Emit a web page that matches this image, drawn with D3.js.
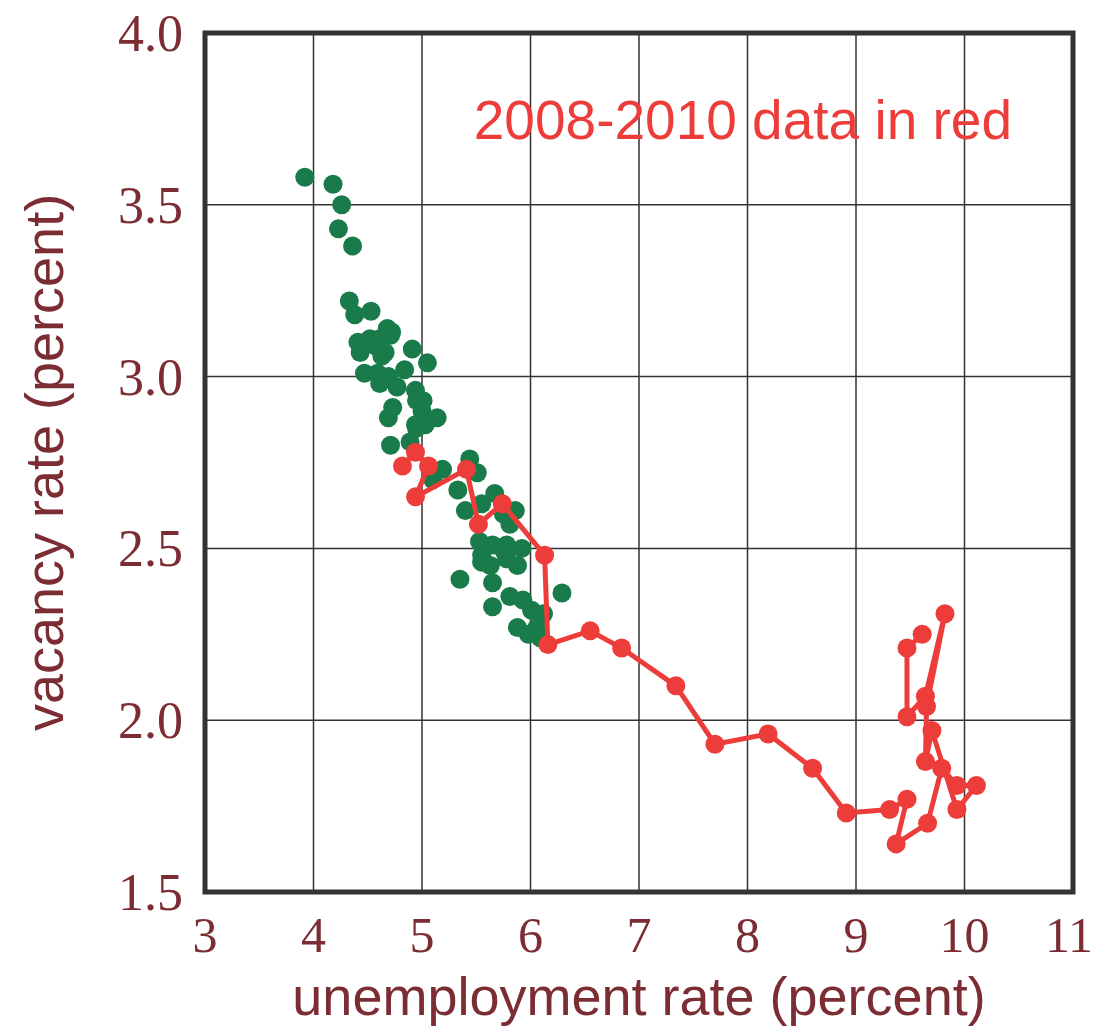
<!DOCTYPE html>
<html>
<head>
<meta charset="utf-8">
<script src="https://cdn.jsdelivr.net/npm/d3@7"></script>
<style>
  body { margin: 0; background: #fff; }
</style>
</head>
<body>
<svg id="drawing_region"></svg>
<script>
// green: all months before 2008 (unemployment %, vacancy %)
const green_u = [3.92, 4.18, 4.26, 4.23, 4.36, 4.33, 4.38, 4.53, 4.68, 4.72, 4.41, 4.52, 4.61, 4.71, 4.91,
    4.43, 4.57, 4.66, 4.63, 5.05, 4.47, 4.59, 4.69, 4.84, 4.61, 4.77, 4.94, 4.95, 5.01, 5.00,
    4.73, 4.69, 5.14, 4.94, 5.03, 4.71, 4.89, 5.44, 5.51, 5.19, 5.33, 5.40, 5.55, 5.67, 5.75,
    5.86, 5.81, 5.53, 5.65, 5.78, 5.92, 5.55, 5.76, 5.55, 5.63, 5.78, 5.88, 5.35, 5.65, 5.81,
    5.93, 6.29, 5.65, 6.01, 6.12, 5.88, 6.06, 5.98, 6.09, 5.10, 4.95];
const green_v = [3.58, 3.56, 3.50, 3.43, 3.38, 3.22, 3.18, 3.19, 3.14, 3.13, 3.10, 3.11, 3.11, 3.12, 3.08,
    3.07, 3.09, 3.07, 3.06, 3.04, 3.01, 3.01, 3.00, 3.02, 2.98, 2.97, 2.96, 2.93, 2.93, 2.90,
    2.91, 2.88, 2.88, 2.86, 2.86, 2.80, 2.81, 2.76, 2.72, 2.73, 2.67, 2.61, 2.63, 2.66, 2.60,
    2.61, 2.57, 2.52, 2.51, 2.51, 2.50, 2.48, 2.49, 2.46, 2.45, 2.47, 2.45, 2.41, 2.40, 2.36,
    2.35, 2.37, 2.33, 2.32, 2.31, 2.27, 2.27, 2.25, 2.24, 2.70, 2.85];

// red: 2008-2010, in time order
const red_u = [4.82, 4.94, 5.06, 4.94, 5.41, 5.52, 5.74, 6.13, 6.16, 6.55, 6.84, 7.34, 7.70, 8.19, 8.60,
    8.91, 9.31, 9.47, 9.37, 9.66, 9.79, 9.93, 10.11, 9.93, 9.70, 9.64, 9.65, 9.82, 9.64, 9.47,
    9.47, 9.61];
const red_v = [2.74, 2.78, 2.74, 2.65, 2.73, 2.57, 2.63, 2.48, 2.22, 2.26, 2.21, 2.10, 1.93, 1.96, 1.86,
    1.73, 1.74, 1.77, 1.64, 1.70, 1.86, 1.81, 1.81, 1.74, 1.97, 1.88, 2.04, 2.31, 2.07, 2.01,
    2.21, 2.25];

const x_ticks = [3, 4, 5, 6, 7, 8, 9, 10, 11];
const y_ticks = [1.5, 2.0, 2.5, 3.0, 3.5, 4.0];

const green_data = green_u.map((u, i) => ({ u: u, v: green_v[i] }));
const red_data = red_u.map((u, i) => ({ u: u, v: red_v[i] }));

class BeveridgePlot {

    constructor(config) {
        this.config = config;
        this.init();
    }

    init() {
        let self = this;
        const c = self.config;

        self.svg = d3.select(c.parent)
            .attr('width', c.width)
            .attr('height', c.height);

        self.x = d3.scaleLinear().domain([3, 11]).range([c.left, c.right]);
        self.y = d3.scaleLinear().domain([1.5, 4]).range([c.bottom, c.top]);
    }

    render() {
        let self = this;
        const c = self.config;
        const tick_color = '#7b2d33';

        // grid
        self.svg.append('g').selectAll('line')
            .data(x_ticks.slice(1, -1))
            .join('line')
            .attr('x1', d => self.x(d)).attr('x2', d => self.x(d))
            .attr('y1', c.top).attr('y2', c.bottom)
            .attr('stroke', '#333').attr('stroke-width', 1.5);
        self.svg.append('g').selectAll('line')
            .data(y_ticks.slice(1, -1))
            .join('line')
            .attr('x1', c.left).attr('x2', c.right)
            .attr('y1', d => self.y(d)).attr('y2', d => self.y(d))
            .attr('stroke', '#333').attr('stroke-width', 1.5);

        // tick labels
        self.svg.append('g').selectAll('text')
            .data(x_ticks)
            .join('text')
            .attr('x', d => self.x(d) - (d === 11 ? 4 : 0))
            .attr('y', c.bottom + 60)
            .attr('text-anchor', 'middle')
            .attr('font-family', 'Liberation Serif, serif')
            .attr('font-size', 50)
            .attr('fill', tick_color)
            .text(d => d);
        self.svg.append('g').selectAll('text')
            .data(y_ticks)
            .join('text')
            .attr('x', c.left - 22)
            .attr('y', d => self.y(d) + 18)
            .attr('text-anchor', 'end')
            .attr('font-family', 'Liberation Serif, serif')
            .attr('font-size', 52)
            .attr('fill', tick_color)
            .text(d => d3.format('.1f')(d));

        // axis titles
        self.svg.append('text')
            .attr('x', (c.left + c.right) / 2)
            .attr('y', 1015)
            .attr('text-anchor', 'middle')
            .attr('font-family', 'Liberation Sans, Arial, sans-serif')
            .attr('font-size', 54)
            .attr('fill', tick_color)
            .text('unemployment rate (percent)');
        self.svg.append('text')
            .attr('transform', `translate(63, ${(c.top + c.bottom) / 2}) rotate(-90)`)
            .attr('text-anchor', 'middle')
            .attr('font-family', 'Liberation Sans, Arial, sans-serif')
            .attr('font-size', 54)
            .attr('fill', tick_color)
            .text('vacancy rate (percent)');

        // green points
        self.svg.append('g').selectAll('circle')
            .data(green_data)
            .join('circle')
            .attr('cx', d => self.x(d.u))
            .attr('cy', d => self.y(d.v))
            .attr('r', 9.5)
            .attr('fill', '#187b49');

        // red path
        const line = d3.line().x(d => self.x(d.u)).y(d => self.y(d.v));
        self.svg.append('path')
            .datum(red_data)
            .attr('d', line)
            .attr('fill', 'none')
            .attr('stroke', '#ec3d3a')
            .attr('stroke-width', 5);
        self.svg.append('g').selectAll('circle')
            .data(red_data)
            .join('circle')
            .attr('cx', d => self.x(d.u))
            .attr('cy', d => self.y(d.v))
            .attr('r', 9.5)
            .attr('fill', '#ec3d3a');

        // annotation
        self.svg.append('text')
            .attr('x', 1012)
            .attr('y', 139)
            .attr('text-anchor', 'end')
            .attr('font-family', 'Liberation Sans, Arial, sans-serif')
            .attr('font-size', 55)
            .attr('fill', '#ec3d3a')
            .text('2008-2010 data in red');

        // frame
        self.svg.append('rect')
            .attr('x', c.left).attr('y', c.top)
            .attr('width', c.right - c.left)
            .attr('height', c.bottom - c.top)
            .attr('fill', 'none')
            .attr('stroke', '#333')
            .attr('stroke-width', 5);
    }
}

const plot = new BeveridgePlot({
    parent: '#drawing_region',
    width: 1095,
    height: 1030,
    left: 205, right: 1073, top: 33, bottom: 892
});
plot.render();
</script>
</body>
</html>
